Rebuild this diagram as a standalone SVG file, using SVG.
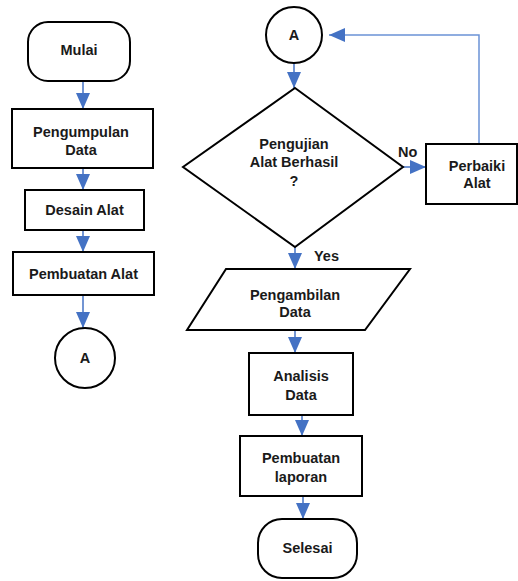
<svg xmlns="http://www.w3.org/2000/svg" width="518" height="581" viewBox="0 0 518 581">
<defs>
<marker id="ah" markerUnits="userSpaceOnUse" markerWidth="16" markerHeight="16" viewBox="0 0 16 14" refX="16" refY="7" orient="auto">
<path d="M0,0 L16,7 L0,14 Z" fill="#4472C4"/>
</marker>
</defs>
<style>
.shape{fill:#fff;stroke:#000;stroke-width:2}
.t{font-family:"Liberation Sans",Arial,sans-serif;font-weight:bold;font-size:14.5px;text-anchor:middle;fill:#1a1a1a}
.lb{font-family:"Liberation Sans",Arial,sans-serif;font-weight:bold;font-size:14.5px;fill:#1a1a1a}
.c{fill:none;stroke:#4472C4;stroke-width:1.5;marker-end:url(#ah)}
.fb{fill:none;stroke:#6B93D6;stroke-width:1.5;marker-end:url(#ah)}
</style>
<rect width="518" height="581" fill="#fff"/>
<g id="connectors">
<path class="c" d="M83,81 L83,109"/>
<path class="c" d="M83,168 L83,190"/>
<path class="c" d="M83,230 L83,252"/>
<path class="c" d="M83,295 L83,328"/>
<path class="c" d="M294,63 L294,88"/>
<path class="c" d="M403,167 L426,167"/>
<path class="fb" d="M479,144 L479,35 L329,35"/>
<path class="c" d="M295,247 L295,269"/>
<path class="c" d="M295,330 L295,353"/>
<path class="c" d="M302,415 L302,436"/>
<path class="c" d="M303,496 L303,519"/>
<text class="lb" x="398" y="157">No</text>
<text class="lb" x="314" y="261">Yes</text>
</g>
<g id="mulai">
<rect class="shape" x="28" y="22" width="102" height="59" rx="20"/>
<text class="t" x="79" y="55">Mulai</text>
</g>
<g id="pengumpulan">
<rect class="shape" x="12" y="109" width="141" height="59"/>
<text class="t" x="81" y="137">Pengumpulan</text>
<text class="t" x="81" y="155">Data</text>
</g>
<g id="desain">
<rect class="shape" x="25" y="190" width="119" height="40"/>
<text class="t" x="84.5" y="215">Desain Alat</text>
</g>
<g id="pembuatan-alat">
<rect class="shape" x="13" y="252" width="141" height="43"/>
<text class="t" x="83.5" y="279">Pembuatan Alat</text>
</g>
<g id="a-left">
<circle class="shape" cx="85" cy="358" r="30"/>
<text class="t" x="85" y="363">A</text>
</g>
<g id="a-top">
<circle class="shape" cx="294" cy="35" r="28"/>
<text class="t" x="294" y="40">A</text>
</g>
<g id="pengujian">
<polygon class="shape" points="295,88 403,167 295,247 183,167"/>
<text class="t" x="294" y="149">Pengujian</text>
<text class="t" x="294" y="167">Alat Berhasil</text>
<text class="t" x="294" y="186">?</text>
</g>
<g id="perbaiki">
<rect class="shape" x="426" y="144" width="91" height="60"/>
<text class="t" x="477" y="171">Perbaiki</text>
<text class="t" x="477" y="188">Alat</text>
</g>
<g id="pengambilan">
<polygon class="shape" points="226,269 410,269 365,330 187,330"/>
<text class="t" x="295" y="300">Pengambilan</text>
<text class="t" x="295" y="317">Data</text>
</g>
<g id="analisis">
<rect class="shape" x="249" y="353" width="104" height="62"/>
<text class="t" x="301" y="381">Analisis</text>
<text class="t" x="301" y="400">Data</text>
</g>
<g id="laporan">
<rect class="shape" x="240" y="436" width="122" height="60"/>
<text class="t" x="301" y="463">Pembuatan</text>
<text class="t" x="301" y="482">laporan</text>
</g>
<g id="selesai">
<rect class="shape" x="258" y="519" width="99" height="59" rx="24"/>
<text class="t" x="307.5" y="553">Selesai</text>
</g>
</svg>
